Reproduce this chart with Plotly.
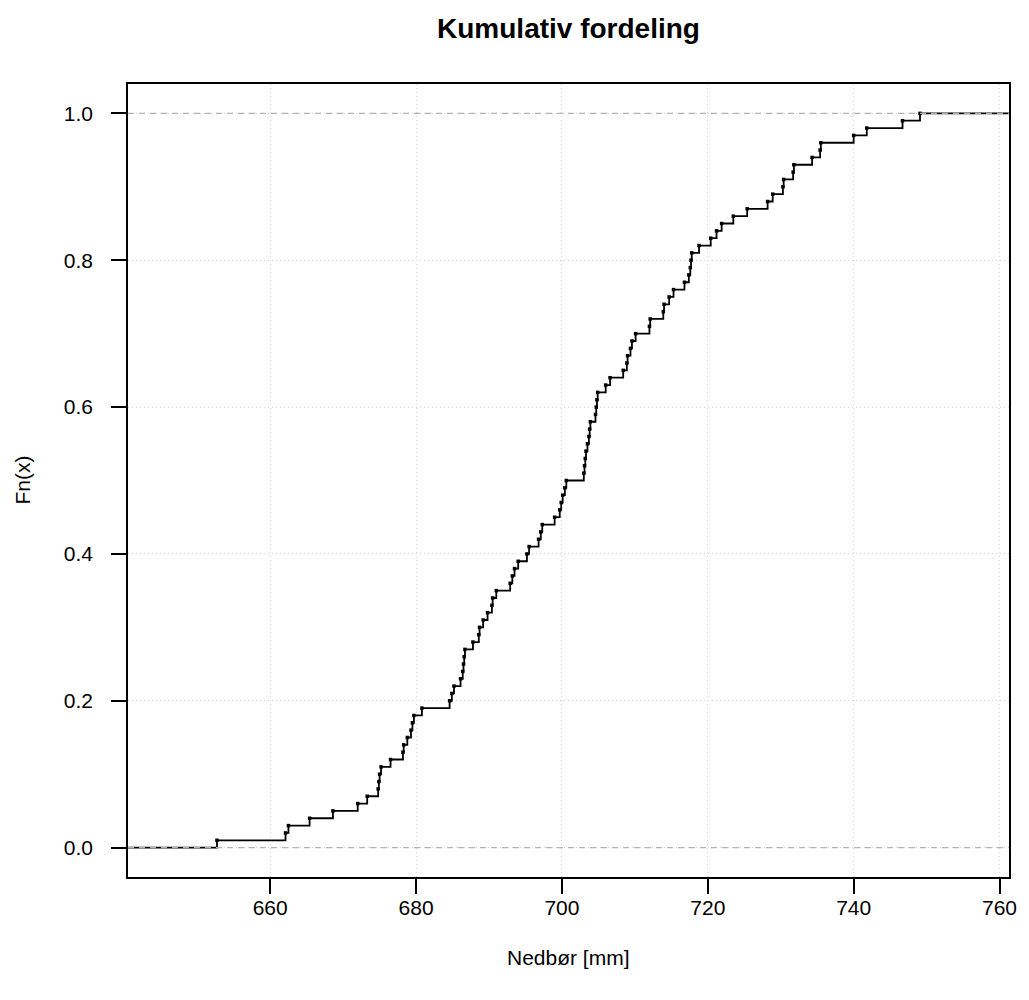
import plotly.graph_objects as go

nedbor = [
    652.7, 662.1, 662.5, 665.4, 668.6, 672.0, 673.3, 674.8, 674.9, 675.0,
    675.2, 676.5, 678.2, 678.3, 678.8, 679.3, 679.5, 679.7, 680.8, 684.6,
    684.9, 685.2, 686.1, 686.4, 686.5, 686.6, 686.7, 687.8, 688.6, 688.7,
    689.2, 689.8, 690.4, 690.5, 691.0, 692.9, 693.2, 693.5, 694.0, 695.2,
    695.5, 696.8, 697.1, 697.3, 699.0, 699.7, 699.9, 700.1, 700.4, 700.6,
    703.0, 703.1, 703.2, 703.3, 703.5, 703.7, 703.8, 703.9, 704.6, 704.7,
    704.8, 704.9, 706.0, 706.6, 708.4, 708.9, 709.0, 709.4, 709.6, 710.1,
    712.0, 712.1, 713.9, 714.0, 714.7, 715.3, 716.8, 717.4, 717.6, 717.7,
    717.8, 718.8, 720.4, 721.2, 721.9, 723.5, 725.4, 728.2, 728.9, 730.3,
    730.4, 731.7, 731.8, 734.3, 735.4, 735.5, 740.0, 741.8, 746.7, 749.1,
]
n = len(nedbor)
fn = [(i + 1) / n for i in range(n)]

x_ticks = [660, 680, 700, 720, 740, 760]
y_ticks = [0.0, 0.2, 0.4, 0.6, 0.8, 1.0]
y_ticklabels = ["0.0", "0.2", "0.4", "0.6", "0.8", "1.0"]

x_range = [640.5, 761.3]
y_range = [-0.04, 1.04]

font = "Liberation Sans, Arial, Helvetica, sans-serif"

fig = go.Figure()

# step line (extends beyond plot edges)
step_x = [x_range[0] - 5] + nedbor + [x_range[1] + 5]
step_y = [0.0] + fn + [1.0]
fig.add_trace(go.Scatter(
    x=step_x, y=step_y, mode="lines", line=dict(color="black", width=1.8, shape="hv"),
    hoverinfo="skip", showlegend=False, cliponaxis=True,
))
# points at knots
fig.add_trace(go.Scatter(
    x=nedbor, y=fn, mode="markers",
    marker=dict(color="black", size=3.5, symbol="square"),
    showlegend=False,
))

# gray dashed horizontal lines at 0 and 1
for h in (0.0, 1.0):
    fig.add_shape(type="line", xref="paper", yref="y", x0=0, x1=1, y0=h, y1=h,
                  line=dict(color="#B3B3B3", width=1.3, dash="6px,5px"), layer="above")

fig.update_layout(
    width=1029, height=1000,
    margin=dict(l=128, r=16, t=84, b=123),
    plot_bgcolor="white", paper_bgcolor="white",
    font=dict(family=font, size=21, color="black"),
    title=dict(text="<b>Kumulativ fordeling</b>", x=0.5, xref="paper", xanchor="center",
               y=1 - 28 / 1000, yanchor="middle", yref="container",
               font=dict(size=28, family=font, color="black")),
)

fig.update_xaxes(
    range=x_range, tickvals=x_ticks, ticktext=[str(t) for t in x_ticks],
    showline=True, linecolor="black", linewidth=1.5, mirror=True,
    ticks="outside", ticklen=15, tickwidth=1.5, tickcolor="black",
    showgrid=True, gridcolor="#D3D3D3", griddash="1px,3px", gridwidth=1.3,
    zeroline=False, ticklabelstandoff=-4,
    tickfont=dict(size=21, family=font, color="black"),
)
fig.update_yaxes(
    range=y_range, tickvals=y_ticks, ticktext=y_ticklabels,
    showline=True, linecolor="black", linewidth=1.5, mirror=True,
    ticks="outside", ticklen=15, tickwidth=1.5, tickcolor="black",
    showgrid=True, gridcolor="#D3D3D3", griddash="1px,3px", gridwidth=1.3,
    zeroline=False, ticklabelstandoff=14,
    tickfont=dict(size=21, family=font, color="black"),
)

# axis titles
fig.add_annotation(text="Nedbør [mm]", xref="paper", yref="paper",
                   x=(570.5 - 128) / (1029 - 144), y=-(957 - 877) / (1000 - 207),
                   xanchor="center", yanchor="middle", showarrow=False,
                   font=dict(size=21, family=font, color="black"))
fig.add_annotation(text="Fn(x)", xref="paper", yref="paper",
                   x=-(128 - 22) / (1029 - 144), y=(877 - 480) / (1000 - 207),
                   xanchor="center", yanchor="middle", textangle=-90, showarrow=False,
                   font=dict(size=21, family=font, color="black"))

fig.write_html("out.html")
